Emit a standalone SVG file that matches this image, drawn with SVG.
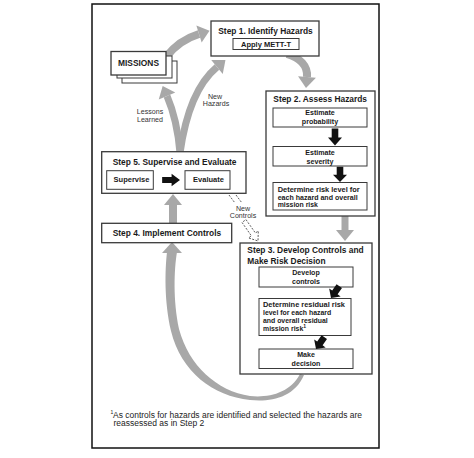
<svg xmlns="http://www.w3.org/2000/svg" width="474" height="458" viewBox="0 0 474 458">
<style>
text{font-family:"Liberation Sans",Arial,sans-serif;fill:#1a1a1a}
.t{font-size:8.4px;font-weight:bold}
.i{font-size:7.1px;font-weight:bold}
.s{font-size:6.9px}
.c{text-anchor:middle}
.lbl{font-size:7.1px;fill:#333}
.fn{font-size:8.5px;fill:#222}
.box{fill:#fff;stroke:#3a3a3a;stroke-width:1.3}
.ibox{fill:#fff;stroke:#3a3a3a;stroke-width:1}
.g{fill:none;stroke:#a8a8a8}
.gf{fill:#a8a8a8}
.dash{fill:none;stroke:#333;stroke-width:0.8;stroke-dasharray:2 1.4}
.ba{fill:#111}
</style>
<defs>
<marker id="gh" markerUnits="userSpaceOnUse" markerWidth="12" markerHeight="18" refX="0" refY="9" orient="auto" overflow="visible">
<path d="M0,0 L11,9 L0,18 Z" fill="#a8a8a8"/>
</marker>
</defs>
<rect x="0" y="0" width="474" height="458" fill="#fff"/>
<rect x="92" y="4" width="287" height="444" fill="none" stroke="#111" stroke-width="1.5"/>

<g id="connectors">
<path class="g" stroke-width="8" d="M166 57 C176 44,186 38,199 34" marker-end="url(#gh)"/>
<path class="g" stroke-width="8" d="M287 54 C300 58,308 66,307 77" marker-end="url(#gh)"/>
<path class="g" stroke-width="7" d="M345 214 L345 230" marker-end="url(#gh)"/>
<path class="g" stroke-width="8" d="M173 225 L173 205" marker-end="url(#gh)"/>
<path class="g" stroke-width="7" d="M180 153 C178 128,173 110,167 96" marker-end="url(#gh)"/>
<path class="g" stroke-width="7" d="M180 153 C186 110,199 82,217 67" marker-end="url(#gh)"/>
<path class="gf" d="M304 375 C294 398,271 402,250 400 C213 396,181 372,171 331 C164 300,165 270,167 252 L177 252 C174 270,173 300,179 329 C189 366,217 391,250 396 C269 398,290 393,300 374 Z"/>
<polygon class="gf" points="172,242 182,253 162,253"/>
<line class="dash" x1="229" y1="195" x2="235" y2="203"/>
<line class="dash" x1="236" y1="195" x2="242" y2="203"/>
<polygon class="dash" points="246,219.6 255.4,233 258.3,231 258,241 248.5,237.9 251.4,235.9 242,222.4"/>
</g>

<g id="missions">
<rect class="ibox" x="122" y="61" width="55" height="22"/>
<rect class="ibox" x="117" y="56" width="55" height="22"/>
<rect class="box" x="111" y="51.5" width="55" height="23.5" stroke-width="1.6"/>
<text class="t c" x="138.5" y="66">MISSIONS</text>
</g>

<g id="step1">
<rect class="box" x="211" y="21" width="108" height="35"/>
<text class="t c" x="265.5" y="33.5">Step 1. Identify Hazards</text>
<rect class="ibox" x="233" y="38.5" width="66" height="11"/>
<text class="i c" x="266" y="47" style="font-size:7.5px">Apply METT-T</text>
</g>

<g id="step2">
<rect class="box" x="266" y="91" width="109" height="125"/>
<text class="t" x="273.3" y="102">Step 2. Assess Hazards</text>
<rect class="ibox" x="273" y="108" width="94" height="19"/>
<text class="i c" x="320" y="115.4">Estimate</text>
<text class="i c" x="320" y="124.3">probability</text>
<rect class="ibox" x="273" y="146.5" width="94" height="19.5"/>
<text class="i c" x="320" y="155.4">Estimate</text>
<text class="i c" x="320" y="163.5">severity</text>
<rect class="ibox" x="273" y="182.5" width="94" height="27.5"/>
<text class="i s" x="277.7" y="192.3" textLength="82" lengthAdjust="spacingAndGlyphs">Determine risk level for</text>
<text class="i s" x="277.7" y="199.8" textLength="80" lengthAdjust="spacingAndGlyphs">each hazard and overall</text>
<text class="i s" x="277.7" y="207.3">mission risk</text>
</g>

<g id="step3">
<rect class="box" x="240" y="243" width="132" height="131"/>
<text class="t" x="247.3" y="253">Step 3. Develop Controls and</text>
<text class="t" x="247.3" y="263.7">Make Risk Decision</text>
<rect class="ibox" x="259" y="267" width="94" height="20"/>
<text class="i c" x="306" y="275.4">Develop</text>
<text class="i c" x="306" y="283.5">controls</text>
<rect class="ibox" x="259" y="298.5" width="92" height="37"/>
<text class="i s" x="263" y="307.4" textLength="82" lengthAdjust="spacingAndGlyphs">Determine residual risk</text>
<text class="i s" x="263" y="315.3">level for each hazard</text>
<text class="i s" x="263" y="323.3">and overall residual</text>
<text class="i s" x="263" y="331.4">mission risk<tspan dy="-3" style="font-size:5px">1</tspan></text>
<rect class="ibox" x="259" y="349" width="94" height="19.5"/>
<text class="i c" x="306" y="357.4">Make</text>
<text class="i c" x="306" y="365.5">decision</text>
</g>

<g id="step4">
<rect class="box" x="101.7" y="223.3" width="130" height="19.4"/>
<text class="t" x="112.7" y="235.5">Step 4. Implement Controls</text>
</g>

<g id="step5">
<rect class="box" x="101.7" y="151.7" width="144.3" height="41.6"/>
<text class="t" x="112.7" y="164.5">Step 5. Supervise and Evaluate</text>
<rect class="ibox" x="106.7" y="170.7" width="46.6" height="18.6"/>
<text class="i c" x="131.5" y="181.5" style="font-size:7.5px">Supervise</text>
<rect class="ibox" x="185" y="170.7" width="45" height="18.6"/>
<text class="i c" x="208.5" y="181.5" style="font-size:7.5px">Evaluate</text>
</g>

<g id="inner-arrows">
<path class="ba" d="M-3.3,-17 L3.3,-17 L3.3,-8 L7,-8 L0,0 L-7,-8 L-3.3,-8 Z" transform="translate(335,145.5)"/>
<path class="ba" d="M-3.3,-17 L3.3,-17 L3.3,-8 L7,-8 L0,0 L-7,-8 L-3.3,-8 Z" transform="translate(340,182) scale(1,0.9)"/>
<path class="ba" d="M-3.3,-17 L3.3,-17 L3.3,-8 L7,-8 L0,0 L-7,-8 L-3.3,-8 Z" transform="translate(331,298) rotate(35) scale(1,0.85)"/>
<path class="ba" d="M-3.3,-17 L3.3,-17 L3.3,-8 L7,-8 L0,0 L-7,-8 L-3.3,-8 Z" transform="translate(316,349) rotate(35) scale(1,0.85)"/>
<path class="ba" d="M-3.3,-17 L3.3,-17 L3.3,-8 L7,-8 L0,0 L-7,-8 L-3.3,-8 Z" transform="translate(180,180) rotate(-90) scale(0.9,1.05)"/>
</g>

<g id="labels">
<text class="lbl c" x="150" y="114">Lessons</text>
<text class="lbl c" x="150" y="121.5">Learned</text>
<text class="lbl c" x="215" y="98.5">New</text>
<text class="lbl c" x="216" y="105.8">Hazards</text>
<text class="lbl c" x="243" y="210.5">New</text>
<text class="lbl c" x="243" y="218">Controls</text>
</g>

<g id="footnote">
<text class="fn" x="110.5" y="414" style="font-size:5px">1</text>
<text class="fn" x="113" y="417.7" textLength="249" lengthAdjust="spacingAndGlyphs">As controls for hazards are identified and selected the hazards are</text>
<text class="fn" x="113.5" y="426.2">reassessed as in Step 2</text>
</g>
</svg>
